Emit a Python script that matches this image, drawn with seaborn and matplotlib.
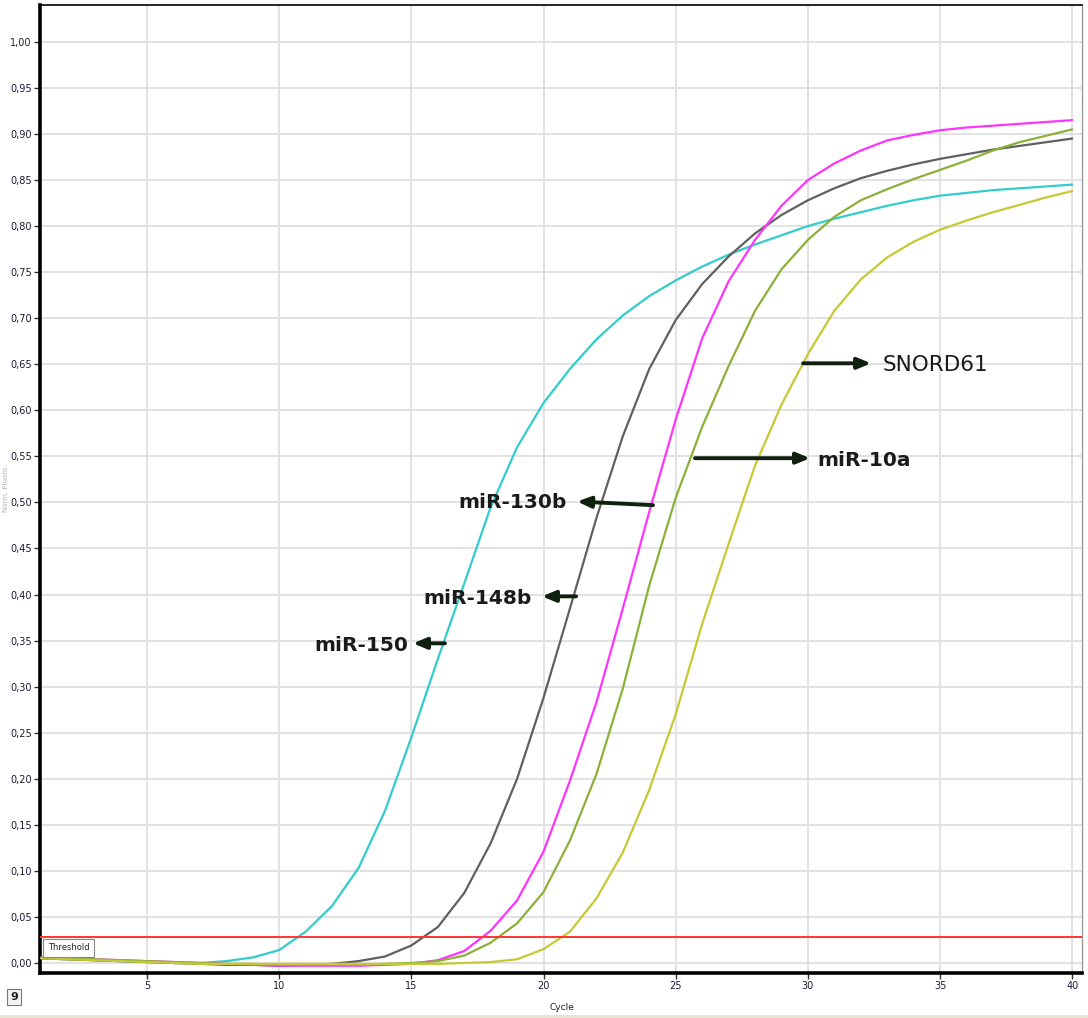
import matplotlib
matplotlib.use("Agg")
import matplotlib.pyplot as plt
from matplotlib.patches import Rectangle
from matplotlib.ticker import FuncFormatter
import pandas as pd
import seaborn as sns

# Normalised fluorescence per amplification cycle
cycles = list(range(1, 41))
mir150 = [0.005, 0.004, 0.003, 0.002, 0.001, 0.000, 0.000, 0.002, 0.006, 0.014,
          0.034, 0.062, 0.103, 0.165, 0.245, 0.330, 0.412, 0.495, 0.560, 0.608,
          0.645, 0.677, 0.703, 0.724, 0.741, 0.756, 0.769, 0.780, 0.790, 0.800,
          0.808, 0.815, 0.822, 0.828, 0.833, 0.836, 0.839, 0.841, 0.843, 0.845]
mir148b = [0.005, 0.004, 0.003, 0.002, 0.001, 0.000, -0.001, -0.002, -0.002, -0.003,
           -0.002, -0.001, 0.002, 0.007, 0.019, 0.039, 0.076, 0.130, 0.200, 0.288,
           0.385, 0.483, 0.572, 0.645, 0.698, 0.737, 0.767, 0.792, 0.812, 0.828,
           0.841, 0.852, 0.860, 0.867, 0.873, 0.878, 0.883, 0.887, 0.891, 0.895]
mir130b = [0.006, 0.005, 0.004, 0.003, 0.002, 0.001, 0.000, -0.001, -0.002, -0.003,
           -0.003, -0.003, -0.003, -0.002, -0.001, 0.003, 0.013, 0.035, 0.068, 0.121,
           0.198, 0.283, 0.385, 0.490, 0.590, 0.678, 0.740, 0.785, 0.822, 0.850,
           0.868, 0.882, 0.893, 0.899, 0.904, 0.907, 0.909, 0.911, 0.913, 0.915]
mir10a = [0.006, 0.005, 0.004, 0.003, 0.002, 0.001, 0.000, -0.001, -0.001, -0.002,
          -0.002, -0.002, -0.002, -0.001, 0.000, 0.002, 0.008, 0.022, 0.043, 0.077,
          0.133, 0.205, 0.298, 0.410, 0.505, 0.582, 0.648, 0.708, 0.753, 0.785,
          0.810, 0.828, 0.840, 0.851, 0.861, 0.871, 0.882, 0.891, 0.898, 0.905]
snord61 = [0.005, 0.004, 0.003, 0.002, 0.001, 0.000, -0.001, -0.001, -0.001, -0.001,
           -0.001, -0.001, -0.001, -0.001, -0.001, -0.001, 0.000, 0.001, 0.004, 0.015,
           0.034, 0.070, 0.120, 0.188, 0.270, 0.368, 0.455, 0.540, 0.606, 0.661,
           0.708, 0.742, 0.766, 0.783, 0.796, 0.806, 0.815, 0.823, 0.831, 0.838]
threshold = 0.028

targets = ["miR-150", "miR-148b", "miR-130b", "miR-10a", "SNORD61"]
series = [mir150, mir148b, mir130b, mir10a, snord61]
colors = ["#33CCCC", "#606060", "#FF33FF", "#8DB038", "#C8C834"]

y_ticks = [i * 0.05 for i in range(21)]
x_ticks = [5, 10, 15, 20, 25, 30, 35, 40]

df = pd.DataFrame({
    "Cycle": cycles * len(targets),
    "Fluorescence": [v for s in series for v in s],
    "Target": [t for t in targets for _ in cycles],
})

sns.set_theme(style="whitegrid")
plt.rcParams["font.family"] = ["DejaVu Sans"]

W, H = 1088, 1018
fig = plt.figure(figsize=(W / 100, H / 100), dpi=100)
fig.patch.set_facecolor("white")
ax = fig.add_axes([40 / W, (H - 973) / H, 1042 / W, 968 / H])
ax.set_facecolor("white")

sns.lineplot(data=df, x="Cycle", y="Fluorescence", hue="Target",
             palette=dict(zip(targets, colors)), linewidth=1.6,
             legend=False, ax=ax, zorder=3)

ax.axhline(threshold, color="#FF3333", lw=1.4, zorder=4)
ax.text(1.25, 0.0163, "Threshold", fontsize=6, color="#222222", va="center",
        ha="left", zorder=5,
        bbox=dict(boxstyle="square,pad=0.55", fc="white", ec="#888888", lw=0.8))

ax.set_xlim(0.95, 40.37)
ax.set_ylim(-0.0109, 1.040)
ax.set_xticks(x_ticks)
ax.set_yticks(y_ticks)
ax.yaxis.set_major_formatter(FuncFormatter(lambda v, p: f"{v:.2f}".replace(".", ",")))
ax.xaxis.set_major_formatter(FuncFormatter(lambda v, p: f"{int(round(v))}"))
ax.tick_params(axis="both", which="major", labelsize=7, length=4, width=1,
               color="#333333", labelcolor="#1a1a33", pad=2, bottom=True, left=True)
ax.grid(True, color="#E2E2E2", lw=1.4)
ax.set_axisbelow(True)

for side, lw, col in [("left", 2.6, "black"), ("bottom", 2.6, "black"),
                      ("top", 1.2, "black"), ("right", 1.0, "#9a9a9a")]:
    ax.spines[side].set_visible(True)
    ax.spines[side].set_linewidth(lw)
    ax.spines[side].set_color(col)

ax.set_xlabel("")
ax.set_ylabel("")
fig.text(562 / W, 1 - 1007 / H, "Cycle", fontsize=6.5, color="#1a1a33",
         ha="center", va="center")
fig.text(6 / W, 1 - 488 / H, "Norm. Fluoro.", fontsize=5, color="#b0b0b0",
         rotation=90, ha="center", va="center")

# Labels with arrows pointing at the curves
arrow_kw = dict(arrowstyle="-|>,head_length=0.72,head_width=0.3", lw=2.8,
                color="#0f200f", shrinkA=0, shrinkB=0, mutation_scale=11)
labels = [
    ("miR-150", (16.27, 0.347), (15.06, 0.347), (14.87, 0.347), "right", "bold", 14.5),
    ("miR-148b", (21.23, 0.398), (19.94, 0.398), (19.56, 0.398), "right", "bold", 14.5),
    ("miR-130b", (24.14, 0.497), (21.27, 0.501), (20.89, 0.502), "right", "bold", 14.5),
    ("miR-10a", (25.73, 0.548), (30.08, 0.548), (30.35, 0.548), "left", "bold", 14.5),
    ("SNORD61", (29.82, 0.651), (32.39, 0.651), (32.81, 0.651), "left", "normal", 15.5),
]
for text, tail, head, pos, ha, weight, size in labels:
    ax.annotate("", xy=head, xytext=tail, arrowprops=arrow_kw, zorder=6)
    ax.text(pos[0], pos[1], text, ha=ha, va="center_baseline", fontsize=size,
            fontweight=weight, color="#1a1a1a", zorder=6)

# Status strip along the lower edge
fig.patches.append(Rectangle((0, 0), 1, 3 / H, transform=fig.transFigure,
                             facecolor="#E9E5D3", edgecolor="none"))
fig.text(14 / W, 1 - 997 / H, "9", fontsize=8, fontweight="bold", color="#222222",
         ha="center", va="center",
         bbox=dict(boxstyle="square,pad=0.25", fc="#f4f4f4", ec="#777777", lw=0.8))

fig.savefig("out.png", dpi=100)
